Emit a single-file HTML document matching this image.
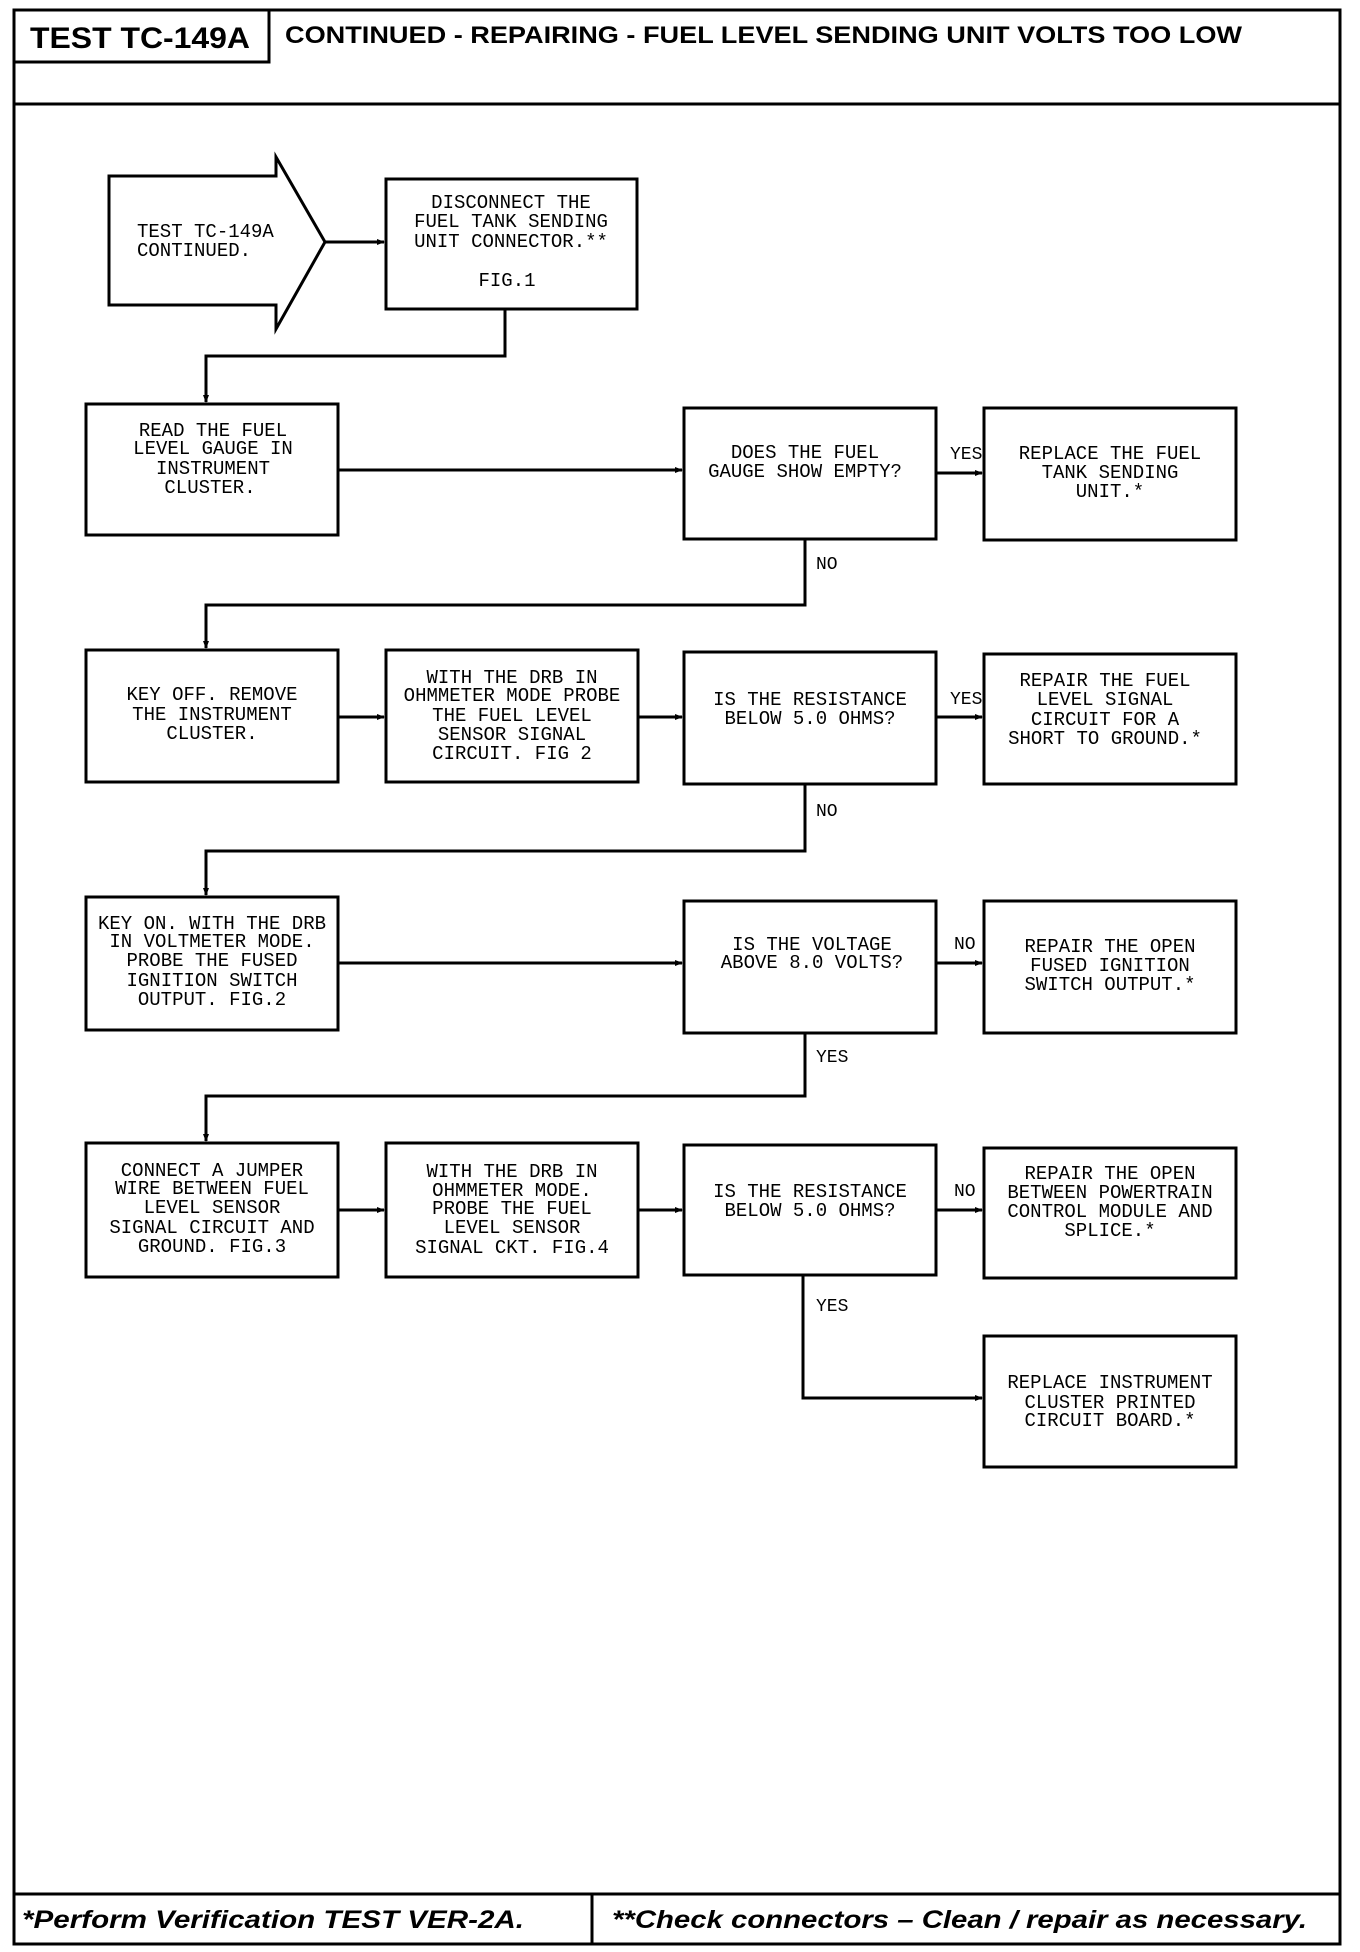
<!DOCTYPE html>
<html><head><meta charset="utf-8"><style>
html,body{margin:0;padding:0;background:#fff;}
svg{display:block;}
.t{font-family:"Liberation Mono",monospace;font-size:19px;fill:#000;}
.l{font-family:"Liberation Mono",monospace;font-size:18px;fill:#000;}
</style></head><body>
<svg width="1360" height="1952" viewBox="0 0 1360 1952" xmlns="http://www.w3.org/2000/svg">
<defs><marker id="a" markerWidth="8" markerHeight="8" refX="7" refY="4" orient="auto" markerUnits="userSpaceOnUse"><path d="M0,1 L8,4 L0,7 Z" fill="#000"/></marker></defs>
<g fill="none" stroke="#000" stroke-width="3">
<rect x="14" y="10" width="1326" height="1934"/>
<line x1="14" y1="104" x2="1340" y2="104"/>
<rect x="14" y="10" width="255" height="52"/>
<line x1="14" y1="1894" x2="1340" y2="1894"/>
<line x1="592" y1="1894" x2="592" y2="1944"/>
<!-- start arrow -->
<polygon points="109,176 276,176 276,157 325,242 276,329 276,305 109,305"/>
<!-- boxes -->
<rect x="386" y="179" width="251" height="130"/>
<rect x="86" y="404" width="252" height="131"/>
<rect x="684" y="408" width="252" height="131"/>
<rect x="984" y="408" width="252" height="132"/>
<rect x="86" y="650" width="252" height="132"/>
<rect x="386" y="650" width="252" height="132"/>
<rect x="684" y="652" width="252" height="132"/>
<rect x="984" y="654" width="252" height="130"/>
<rect x="86" y="897" width="252" height="133"/>
<rect x="684" y="901" width="252" height="132"/>
<rect x="984" y="901" width="252" height="132"/>
<rect x="86" y="1143" width="252" height="134"/>
<rect x="386" y="1143" width="252" height="134"/>
<rect x="684" y="1145" width="252" height="130"/>
<rect x="984" y="1148" width="252" height="130"/>
<rect x="984" y="1336" width="252" height="131"/>
</g>
<g fill="none" stroke="#000" stroke-width="3">
<line x1="325" y1="242" x2="384" y2="242" marker-end="url(#a)"/>
<polyline points="505,309 505,356 206,356 206,402" marker-end="url(#a)"/>
<line x1="338" y1="470" x2="682" y2="470" marker-end="url(#a)"/>
<line x1="936" y1="473" x2="982" y2="473" marker-end="url(#a)"/>
<polyline points="805,539 805,605 206,605 206,648" marker-end="url(#a)"/>
<line x1="338" y1="717" x2="384" y2="717" marker-end="url(#a)"/>
<line x1="638" y1="717" x2="682" y2="717" marker-end="url(#a)"/>
<line x1="936" y1="717" x2="982" y2="717" marker-end="url(#a)"/>
<polyline points="805,784 805,851 206,851 206,895" marker-end="url(#a)"/>
<line x1="338" y1="963" x2="682" y2="963" marker-end="url(#a)"/>
<line x1="936" y1="963" x2="982" y2="963" marker-end="url(#a)"/>
<polyline points="805,1033 805,1096 206,1096 206,1141" marker-end="url(#a)"/>
<line x1="338" y1="1210" x2="384" y2="1210" marker-end="url(#a)"/>
<line x1="638" y1="1210" x2="682" y2="1210" marker-end="url(#a)"/>
<line x1="936" y1="1210" x2="982" y2="1210" marker-end="url(#a)"/>
<polyline points="803,1275 803,1398 982,1398" marker-end="url(#a)"/>
</g>
<g font-family="Liberation Sans, sans-serif" font-weight="bold" fill="#000">
<text x="30" y="48" font-size="30" textLength="220" lengthAdjust="spacingAndGlyphs">TEST TC-149A</text>
<text x="285" y="43" font-size="24" textLength="957" lengthAdjust="spacingAndGlyphs">CONTINUED -  REPAIRING - FUEL LEVEL SENDING UNIT VOLTS TOO LOW</text>
<text x="22" y="1928" font-size="25" font-style="italic" textLength="502" lengthAdjust="spacingAndGlyphs">*Perform Verification TEST VER-2A.</text>
<text x="612" y="1928" font-size="25" font-style="italic" textLength="695" lengthAdjust="spacingAndGlyphs">**Check connectors – Clean / repair as necessary.</text>
</g>
<g class="t" dominant-baseline="central">
<text x="137" y="232">TEST TC-149A</text>
<text x="137" y="251">CONTINUED.</text>
</g>
<g class="t" text-anchor="middle" dominant-baseline="central">
<text x="511" y="203">DISCONNECT THE</text>
<text x="511" y="222">FUEL TANK SENDING</text>
<text x="511" y="242">UNIT CONNECTOR.**</text>
<text x="507" y="281">FIG.1</text>
<text x="213" y="431">READ THE FUEL</text>
<text x="213" y="449">LEVEL GAUGE IN</text>
<text x="213" y="469">INSTRUMENT</text>
<text x="210" y="488">CLUSTER.</text>
<text x="805" y="453">DOES THE FUEL</text>
<text x="805" y="472">GAUGE SHOW EMPTY?</text>
<text x="1110" y="454">REPLACE THE FUEL</text>
<text x="1110" y="473">TANK SENDING</text>
<text x="1110" y="492">UNIT.*</text>
<text x="212" y="695">KEY OFF. REMOVE</text>
<text x="212" y="715">THE INSTRUMENT</text>
<text x="212" y="734">CLUSTER.</text>
<text x="512" y="678">WITH THE DRB IN</text>
<text x="512" y="696">OHMMETER MODE PROBE</text>
<text x="512" y="716">THE FUEL LEVEL</text>
<text x="512" y="735">SENSOR SIGNAL</text>
<text x="512" y="754">CIRCUIT. FIG 2</text>
<text x="810" y="700">IS THE RESISTANCE</text>
<text x="810" y="719">BELOW 5.0 OHMS?</text>
<text x="1105" y="681">REPAIR THE FUEL</text>
<text x="1105" y="700">LEVEL SIGNAL</text>
<text x="1105" y="720">CIRCUIT FOR A</text>
<text x="1105" y="739">SHORT TO GROUND.*</text>
<text x="212" y="924">KEY ON. WITH THE DRB</text>
<text x="212" y="942">IN VOLTMETER MODE.</text>
<text x="212" y="961">PROBE THE FUSED</text>
<text x="212" y="981">IGNITION SWITCH</text>
<text x="212" y="1000">OUTPUT. FIG.2</text>
<text x="812" y="945">IS THE VOLTAGE</text>
<text x="812" y="963">ABOVE 8.0 VOLTS?</text>
<text x="1110" y="947">REPAIR THE OPEN</text>
<text x="1110" y="966">FUSED IGNITION</text>
<text x="1110" y="985">SWITCH OUTPUT.*</text>
<text x="212" y="1171">CONNECT A JUMPER</text>
<text x="212" y="1189">WIRE BETWEEN FUEL</text>
<text x="212" y="1208">LEVEL SENSOR</text>
<text x="212" y="1228">SIGNAL CIRCUIT AND</text>
<text x="212" y="1247">GROUND. FIG.3</text>
<text x="512" y="1172">WITH THE DRB IN</text>
<text x="512" y="1191">OHMMETER MODE.</text>
<text x="512" y="1209">PROBE THE FUEL</text>
<text x="512" y="1228">LEVEL SENSOR</text>
<text x="512" y="1248">SIGNAL CKT. FIG.4</text>
<text x="810" y="1192">IS THE RESISTANCE</text>
<text x="810" y="1211">BELOW 5.0 OHMS?</text>
<text x="1110" y="1174">REPAIR THE OPEN</text>
<text x="1110" y="1193">BETWEEN POWERTRAIN</text>
<text x="1110" y="1212">CONTROL MODULE AND</text>
<text x="1110" y="1231">SPLICE.*</text>
<text x="1110" y="1383">REPLACE INSTRUMENT</text>
<text x="1110" y="1403">CLUSTER PRINTED</text>
<text x="1110" y="1421">CIRCUIT BOARD.*</text>
</g>
<g class="l" dominant-baseline="central">
<text x="950" y="455">YES</text>
<text x="816" y="565">NO</text>
<text x="950" y="700">YES</text>
<text x="816" y="812">NO</text>
<text x="954" y="945">NO</text>
<text x="816" y="1058">YES</text>
<text x="954" y="1192">NO</text>
<text x="816" y="1307">YES</text>
</g>
</svg>
</body></html>
